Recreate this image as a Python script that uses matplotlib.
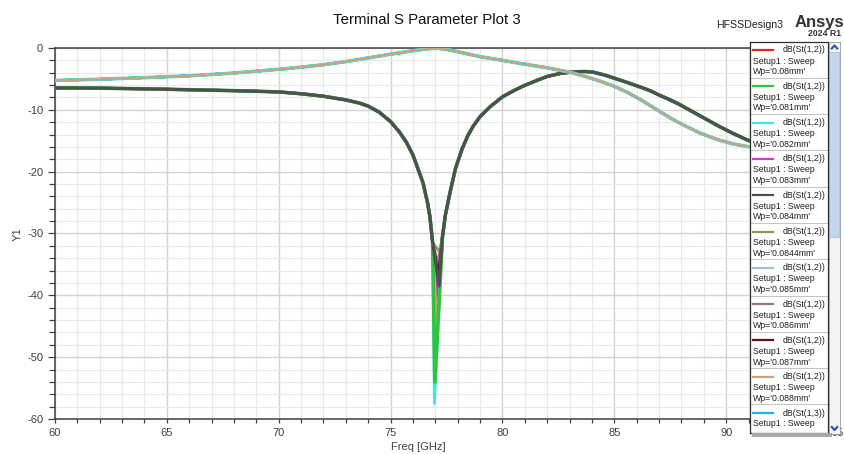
import matplotlib
matplotlib.use("Agg")
import matplotlib.pyplot as plt
from matplotlib.patches import Rectangle
from matplotlib.ticker import MultipleLocator

plt.rcParams["font.family"] = ["Liberation Sans", "DejaVu Sans"]

W, H = 845, 454

# ---- sweep parameter values ----
wp_labels = ["0.08mm", "0.081mm", "0.082mm", "0.083mm", "0.084mm",
             "0.0844mm", "0.085mm", "0.086mm", "0.087mm", "0.088mm"]

# trace colours
s12_colors = ["#e3262c", "#2ec43c", "#3ee6ee", "#df2fdf", "#4f4f4f",
              "#8c9a4c", "#a3bfda", "#9a7089", "#5c1020", "#c9a47f"]
s13_colors = ["#1fb0ef", "#e3262c", "#2ed23c", "#df2fdf", "#8c9a4c",
              "#a3bfda", "#9a7089", "#5c1020", "#3ee6ee", "#c9a47f"]

# ---- dB(St(1,2)) : common part of the traces on both sides of the notch ----
s12_left_freq = [60, 62, 64, 66, 68, 70, 71, 72, 73, 73.6, 74, 74.5, 75,
                 75.4, 75.7, 76.0, 76.25, 76.45, 76.65, 76.76, 76.88]
s12_left_db = [-6.45, -6.5, -6.6, -6.75, -6.9, -7.1, -7.4, -7.8, -8.4, -8.9,
               -9.4, -10.4, -11.9, -13.6, -15.2, -17.3, -19.8, -21.8, -25.0,
               -27.3, -31.5]
s12_right_freq = [77.32, 77.45, 77.65, 77.9, 78.2, 78.45, 78.7, 79.0, 79.45,
                  80.0, 80.45, 80.9, 81.5, 82.0, 82.6, 83.2, 83.7, 84.05, 84.6,
                  85.1, 85.6, 86.15, 86.6, 87.0, 87.5, 87.9, 88.4, 88.8, 89.3,
                  89.7, 90.3, 90.9, 92, 93, 94, 95]
s12_right_db = [-30.5, -27.0, -23.5, -19.5, -16.3, -14.2, -12.6, -11.1, -9.5,
                -7.9, -7.0, -6.2, -5.3, -4.6, -4.1, -3.85, -3.8, -3.9, -4.4,
                -5.0, -5.6, -6.3, -6.9, -7.6, -8.4, -9.1, -10.1, -10.9, -11.9,
                -12.7, -13.8, -14.8, -16.4, -17.7, -18.8, -19.7]
# notch minimum of each Wp trace
notch_freq = [77.0, 76.98, 76.96, 77.02, 77.17, 77.2, 77.08, 77.12, 77.14, 77.08]
notch_db = [-42.0, -54.0, -57.5, -40.0, -38.5, -33.0, -36.0, -35.0, -37.0, -46.0]

# ---- dB(St(1,3)) ----
s13_freq = [60, 62, 64, 66, 68, 70, 71, 72, 73, 74, 75, 76, 76.6, 77.1, 77.6,
            78, 79, 80, 80.8, 82, 83, 83.7, 84.4, 85, 85.6, 86.15, 86.6, 87.0,
            87.5, 87.9, 88.4, 88.8, 89.3, 89.7, 90.3, 90.9, 92, 93, 94, 95]
s13_db = [-5.25, -5.05, -4.8, -4.5, -4.05, -3.45, -3.1, -2.7, -2.2, -1.6, -1.0,
          -0.45, -0.15, -0.05, -0.3, -0.6, -1.4, -2.0, -2.5, -3.2, -3.9, -4.6,
          -5.4, -6.2, -7.2, -8.3, -9.3, -10.2, -11.3, -12.1, -13.0, -13.7,
          -14.4, -14.9, -15.5, -15.9, -16.5, -16.9, -17.2, -17.4]

x_ticks = [60, 65, 70, 75, 80, 85, 90, 95]
y_ticks = [0, -10, -20, -30, -40, -50, -60]

# line widths for the overlapping traces
s12_lw = [2.0, 2.6, 2.0, 2.0, 2.3, 2.0, 2.0, 2.2, 2.0, 2.0]
s13_lw = [1.8, 1.8, 1.8, 1.8, 1.8, 1.8, 1.8, 1.8, 2.6, 1.7]


def fx(px):
    return px / W


def fy(py):
    return 1 - py / H


fig = plt.figure(figsize=(W / 100, H / 100), dpi=100)
fig.patch.set_facecolor("white")

ax = fig.add_axes([fx(55), fy(419), (838 - 55) / W, (419 - 48) / H])
ax.set_xlim(60, 95)
ax.set_ylim(-60, 0)

# St(1,2) traces: the gray one goes last so it sits on top
order = [0, 3, 5, 6, 7, 8, 9, 2, 1, 4]
for i in order:
    f = s12_left_freq + [notch_freq[i]] + s12_right_freq
    d = s12_left_db + [notch_db[i]] + s12_right_db
    ax.plot(f, d, color=s12_colors[i], lw=s12_lw[i], solid_joinstyle="round",
            zorder=3)

for i in range(len(wp_labels)):
    ax.plot(s13_freq, s13_db, color=s13_colors[i], lw=s13_lw[i], zorder=4)

ax.xaxis.set_major_locator(MultipleLocator(5))
ax.xaxis.set_minor_locator(MultipleLocator(1))
ax.yaxis.set_major_locator(MultipleLocator(10))
ax.yaxis.set_minor_locator(MultipleLocator(2))
ax.set_xticks(x_ticks)
ax.set_xticklabels([str(v) for v in x_ticks])
ax.set_yticks(y_ticks)
ax.set_yticklabels([str(v) for v in y_ticks])

ax.grid(which="major", color="#d2d2d2", lw=1.0, zorder=0)
ax.grid(which="minor", color="#e9e9e9", lw=0.8, zorder=0)
ax.set_axisbelow(True)

ax.tick_params(axis="y", which="major", length=5, width=0.9, pad=3.5,
               colors="#404040", labelsize=8)
ax.tick_params(axis="y", which="minor", length=4.2, width=0.9, colors="#404040")
ax.tick_params(axis="x", which="major", length=3, width=0.9, pad=3.5,
               colors="#404040", labelsize=8)
ax.tick_params(axis="x", which="minor", length=3, width=0.9, colors="#404040")
for side in ["left", "bottom", "top", "right"]:
    ax.spines[side].set_color("#404040")
    ax.spines[side].set_linewidth(1.1)

# titles and labels
fig.text(fx(427), fy(20), "Terminal S Parameter Plot 3", ha="center",
         va="center", fontsize=10.8, color="#111111")
fig.text(fx(418), fy(447), "Freq [GHz]", ha="center", va="center",
         fontsize=8, color="#404040")
fig.text(fx(18), fy(234), "Y1", ha="center", va="center", rotation=90,
         fontsize=8, color="#404040")
fig.text(fx(783), fy(25), "HFSSDesign3", ha="right", va="center",
         fontsize=7.6, color="#202020")
fig.text(fx(795), fy(27), "Ansys", ha="left", va="baseline",
         fontsize=12, fontweight="bold", color="#333333")
fig.text(fx(841), fy(34), "2024 R1", ha="right", va="center",
         fontsize=6.3, fontweight="bold", color="#333333")

# ---- legend panel ----
top_px, bot_px = 42, 433
lh_px = bot_px - top_px
lw_px = 78

shadow = Rectangle((fx(752), fy(bot_px + 4)), (832 - 752) / W, 4 / H,
                   transform=fig.transFigure, facecolor="#a8a8a8",
                   edgecolor="none", zorder=5)
fig.patches.append(shadow)

lax = fig.add_axes([fx(750), fy(bot_px), lw_px / W, lh_px / H])
lax.set_xlim(0, lw_px)
lax.set_ylim(lh_px, 0)
lax.set_xticks([])
lax.set_yticks([])
lax.set_facecolor("white")
for s in lax.spines.values():
    s.set_color("#303030")
    s.set_linewidth(0.9)

entries = [("dB(St(1,2))", s12_colors[i], wp_labels[i]) for i in range(len(wp_labels))]
entries += [("dB(St(1,3))", s13_colors[i], wp_labels[i]) for i in range(len(wp_labels))]

step = 36.3
limit = lh_px - 4
for k, (name, col, wp) in enumerate(entries):
    y0 = 8 + step * k
    if y0 > limit:
        break
    lax.plot([3, 23], [y0, y0], color=col, lw=1.6, clip_on=True)
    lax.text(75.5, y0, name, ha="right", va="center", fontsize=6.3,
             color="#202020", clip_on=True)
    if y0 + 11 < limit:
        lax.text(2.7, y0 + 11, "Setup1 : Sweep", ha="left", va="center",
                 fontsize=6.3, color="#202020", clip_on=True)
    if y0 + 21.7 < limit:
        lax.text(2.7, y0 + 21.7, "Wp='%s'" % wp, ha="left", va="center",
                 fontsize=6.3, color="#202020", clip_on=True)
    if y0 + 27.7 < lh_px:
        lax.axhline(y0 + 27.7, color="#c4c4c4", lw=0.7)

# scrollbar
sax = fig.add_axes([fx(829), fy(bot_px + 1), 11 / W, (lh_px + 1) / H])
sax.set_xlim(0, 11)
sax.set_ylim(lh_px + 1, 0)
sax.set_xticks([])
sax.set_yticks([])
sax.set_facecolor("#f3f3f3")
for s in sax.spines.values():
    s.set_color("#9a9a9a")
    s.set_linewidth(0.6)
sax.add_patch(Rectangle((0.5, 10), 10, 185, facecolor="#c5d6f0",
                        edgecolor="#aebfe0", lw=0.6))
sax.plot([2.8, 5.5, 8.2], [6.5, 3.5, 6.5], color="#2050c0", lw=1.5)
sax.plot([2.8, 5.5, 8.2], [lh_px - 6, lh_px - 3, lh_px - 6],
         color="#2050c0", lw=1.5)

fig.savefig("out.png", dpi=100, facecolor="white")
